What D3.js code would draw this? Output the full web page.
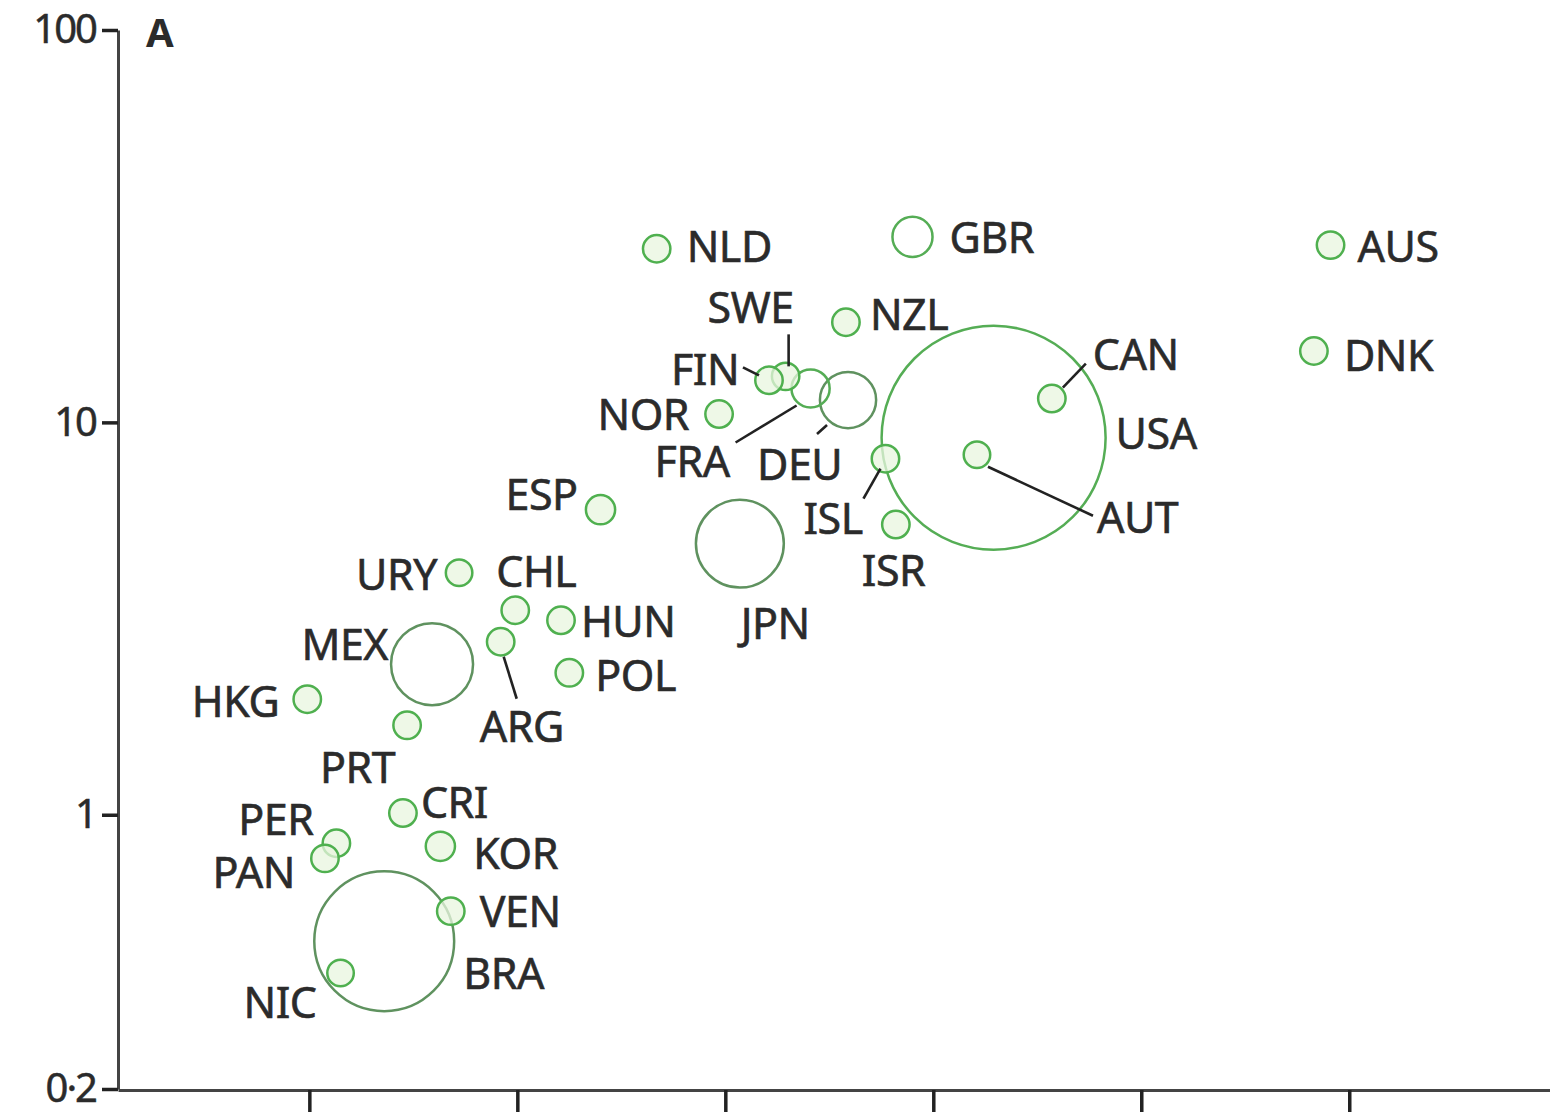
<!DOCTYPE html>
<html>
<head>
<meta charset="utf-8">
<script src="https://cdn.jsdelivr.net/npm/d3@7"></script>
<style>
  body { margin: 0; background: #fff; }
  svg text { font-family: "Noto Sans", sans-serif; fill: #2b2b2b; }
</style>
</head>
<body>
<svg id="bubbles" width="1550" height="1117"></svg>
<script>
// country codes, x value (unlabelled axis), y value (log), bubble weight
const countries = ["NLD", "GBR", "AUS", "DNK", "NZL", "SWE", "FIN", "NOR", "FRA", "DEU",
    "CAN", "USA", "AUT", "ISL", "ISR", "ESP", "JPN", "URY", "CHL", "HUN",
    "MEX", "POL", "HKG", "ARG", "PRT", "CRI", "PER", "PAN", "KOR", "VEN", "BRA", "NIC"];
const xValues = [2.67, 3.90, 5.91, 5.83, 3.58, 3.29, 3.21, 2.97, 3.41, 3.59,
    4.57, 4.29, 4.21, 3.77, 3.82, 2.40, 3.07, 1.72, 1.99, 2.21,
    1.59, 2.25, 0.99, 1.92, 1.47, 1.45, 1.13, 1.075, 1.63, 1.68, 1.36, 1.15];
const yValues = [27.7, 29.7, 28.3, 15.2, 18.0, 13.1, 12.8, 10.5, 12.2, 11.4,
    11.5, 9.14, 8.27, 8.08, 5.49, 5.99, 4.91, 4.14, 3.32, 3.13,
    2.42, 2.30, 1.97, 2.76, 1.69, 1.01, 0.846, 0.774, 0.831, 0.568, 0.476, 0.395];
const weights = [1.5, 3.2, 1.5, 1.5, 1.5, 1.5, 1.5, 1.5, 2.9, 6.3,
    1.5, 100, 1.4, 1.5, 1.5, 1.7, 15.4, 1.4, 1.5, 1.5,
    13.4, 1.5, 1.5, 1.5, 1.5, 1.5, 1.5, 1.5, 1.7, 1.5, 39, 1.4];
const yTicks = [0.2, 1, 10, 100];
const yTickLabels = ["0·2", "1", "10", "100"];
const xTicks = [1, 2, 3, 4, 5, 6];
const panelLabel = "A";

// label placement relative to bubble centre: [dx, dy, anchor]
const labelPos = {
    NLD: [30, -2, "start"], GBR: [37, 1, "start"], AUS: [27, 1, "start"], DNK: [30, 4, "start"],
    NZL: [24, -8, "start"], SWE: [-78, -69, "start"], FIN: [-98, -11, "start"], NOR: [-30, 0, "end"],
    FRA: [-156, 73, "start"], DEU: [-91, 64, "start"], CAN: [41, -44, "start"], USA: [122, -4, "start"],
    AUT: [120, 63, "start"], ISL: [-82, 60, "start"], ISR: [-34, 46, "start"], ESP: [-23, -15, "end"],
    JPN: [1, 80, "start"], URY: [-22, 2, "end"], CHL: [-19, -39, "start"], HUN: [20, 1, "start"],
    MEX: [-44, -20, "end"], POL: [26, 3, "start"], HKG: [-28, 2, "end"], ARG: [-21, 85, "start"],
    PRT: [-87, 42, "start"], CRI: [18, -11, "start"], PER: [-23, -24, "end"], PAN: [-30, 14, "end"],
    KOR: [33, 7, "start"], VEN: [29, 0, "start"], BRA: [79, 32, "start"], NIC: [-24, 29, "end"]
};
// leader lines relative to bubble centre: [x1, y1, x2, y2]
const leaders = {
    SWE: [3, -42, 3, -10], FIN: [-26, -13, -10, -5], FRA: [-75, 54, -14, 17],
    DEU: [-31, 34, -21, 25], CAN: [11, -11, 34, -35], AUT: [11, 12, 116, 61],
    ISL: [-22, 40, -5, 10], ARG: [3, 15, 16, 57]
};

const svg = d3.select("#bubbles");

const x = d3.scaleLinear().domain([0.08, 6.97]).range([118, 1551]);
const y = d3.scaleLog().domain([0.2, 100]).range([1089, 30]);
const r = d3.scaleSqrt().domain([0, 100]).range([0, 112]);

const data = countries.map(function (c, i) {
    return {code: c, x: xValues[i], y: yValues[i], w: weights[i]};
});
data.sort(function (a, b) { return b.w - a.w; });

// bubbles, big ones underneath
const g = svg.append("g");
g.selectAll("circle")
    .data(data)
    .enter().append("circle")
    .attr("cx", function (d) { return x(d.x); })
    .attr("cy", function (d) { return y(d.y); })
    .attr("r", function (d) { return r(d.w); })
    .attr("fill", function (d) { return d.w > 2 ? "none" : "#e8f6df"; })
    .attr("fill-opacity", 0.75)
    .attr("stroke", function (d) {
        if (d.code === "USA" || d.code === "FRA" || d.code === "GBR") return "#55ad55";
        return d.w > 2 ? "#5f925f" : "#4fb04f";
    })
    .attr("stroke-width", 2.5);

// leader lines
g.selectAll("line.leader")
    .data(data.filter(function (d) { return leaders[d.code]; }))
    .enter().append("line")
    .attr("class", "leader")
    .attr("x1", function (d) { return x(d.x) + leaders[d.code][0]; })
    .attr("y1", function (d) { return y(d.y) + leaders[d.code][1]; })
    .attr("x2", function (d) { return x(d.x) + leaders[d.code][2]; })
    .attr("y2", function (d) { return y(d.y) + leaders[d.code][3]; })
    .attr("stroke", "#222")
    .attr("stroke-width", 2.6);

// country labels
g.selectAll("text.lbl")
    .data(data)
    .enter().append("text")
    .attr("class", "lbl")
    .attr("x", function (d) { return x(d.x) + labelPos[d.code][0]; })
    .attr("y", function (d) { return y(d.y) + labelPos[d.code][1]; })
    .attr("dy", "0.36em")
    .attr("text-anchor", function (d) { return labelPos[d.code][2]; })
    .style("font-size", "43px")
    .style("letter-spacing", "-0.5px")
    .style("stroke", "#2b2b2b")
    .style("stroke-width", "0.6px")
    .text(function (d) { return d.code; });

// axes
const yAxis = svg.append("g")
    .attr("transform", "translate(118,0)")
    .call(d3.axisLeft(y)
        .tickValues(yTicks)
        .tickFormat(function (d, i) { return yTickLabels[i]; })
        .tickSize(16)
        .tickSizeOuter(0)
        .tickPadding(6));

const xAxis = svg.append("g")
    .attr("transform", "translate(0,1090)")
    .call(d3.axisBottom(x)
        .tickValues(xTicks)
        .tickFormat("")
        .tickSize(22)
        .tickSizeOuter(0));

svg.selectAll(".domain").attr("stroke", "#444").attr("stroke-width", 3);
svg.selectAll(".tick line").attr("stroke", "#222").attr("stroke-width", 3.5);
yAxis.selectAll("text")
    .style("font-size", "40px")
    .style("letter-spacing", "-2px")
    .style("stroke", "#2b2b2b")
    .style("stroke-width", "0.5px")
    .attr("fill", "#2b2b2b");

svg.append("text")
    .attr("x", 146)
    .attr("y", 47)
    .style("font-size", "40px")
    .style("font-weight", "bold")
    .text(panelLabel);
</script>
</body>
</html>
